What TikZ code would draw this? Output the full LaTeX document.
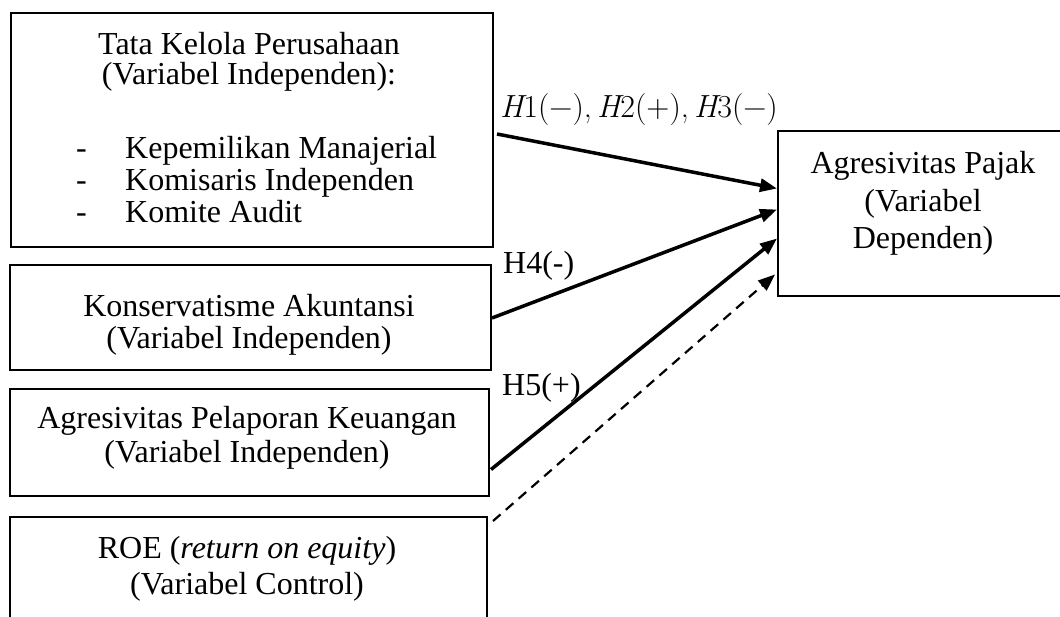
\documentclass[tikz,border=0pt]{standalone}
\usepackage{fontspec}
\setmainfont{Liberation Serif}
\newfontfamily\lmr{Latin Modern Roman}
\usetikzlibrary{arrows.meta}
\begin{document}
\begin{tikzpicture}[x=1pt,y=-1pt,
  box/.style={draw, line width=2pt, inner sep=0pt, anchor=north west},
  txt/.style={inner sep=0pt, anchor=base, font=\fontsize{32}{34}\selectfont},
  arr/.style={line width=3.5pt, -{Triangle[length=17pt,width=13pt]}},
  ctrl/.style={line width=2.2pt, dash pattern=on 10pt off 7pt, -{Triangle[length=17pt,width=13pt]}},
  lab/.style={inner sep=0pt, anchor=base west, font=\fontsize{32}{34}\selectfont}]
\useasboundingbox (0,0) rectangle (1060,616);
\clip (0,0) rectangle (1060,616);
% boxes
\node[box, minimum width=482pt, minimum height=234pt] (tk) at (10,12) {};
\node[box, minimum width=481pt, minimum height=105pt] (ka) at (9,264) {};
\node[box, minimum width=479pt, minimum height=107pt] (apk) at (9,388) {};
\node[box, minimum width=477pt, minimum height=110pt] (roe) at (9,516) {};
\node[box, minimum width=293pt, minimum height=165pt] (ap) at (777,130) {};
% texts
\node[txt] (tk1) at (249,54) {Tata Kelola Perusahaan};
\node[txt] (tk2) at (249,84) {(Variabel Independen):};
\node[txt, anchor=base west] (d1) at (76,158) {-};
\node[txt, anchor=base west] (d2) at (76,190) {-};
\node[txt, anchor=base west] (d3) at (76,222) {-};
\node[txt, anchor=base west] (i1) at (125,158) {Kepemilikan Manajerial};
\node[txt, anchor=base west] (i2) at (125,190) {Komisaris Independen};
\node[txt, anchor=base west] (i3) at (125,222) {Komite Audit};
\node[txt] (ka1) at (249,316) {Konservatisme Akuntansi};
\node[txt] (ka2) at (249,348) {(Variabel Independen)};
\node[txt] (apk1) at (247,428) {Agresivitas Pelaporan Keuangan};
\node[txt] (apk2) at (247,462) {(Variabel Independen)};
\node[txt] (roe1) at (247,558) {ROE (\textit{return on equity})};
\node[txt] (roe2) at (247,594) {(Variabel Control)};
\node[txt] (ap1) at (923,173) {Agresivitas Pajak};
\node[txt] (ap2) at (923,211) {(Variabel};
\node[txt] (ap3) at (923,248) {Dependen)};
% labels
\node[lab] (h123) at (500,117) {\lmr\itshape H\upshape1(−),\,\itshape H\upshape2(+),\,\itshape H\upshape3(−)};
\node[lab] (h4) at (503,273) {H4(-)};
\node[lab] (h5) at (502,395) {H5(+)};
% connectors
\draw[arr] ([xshift=3pt,yshift=-4pt]tk.east) -- ([yshift=25pt]ap.west);
\draw[arr] ([yshift=-0.5pt]ka.east) -- ([yshift=4pt]ap.west);
\draw[arr] ([xshift=1pt,yshift=-27pt]apk.east) -- ([yshift=-25pt]ap.west);
\draw[ctrl] ([xshift=5pt,yshift=51pt]roe.east) -- ([xshift=-2pt,yshift=-61pt]ap.west);
\end{tikzpicture}
\end{document}
